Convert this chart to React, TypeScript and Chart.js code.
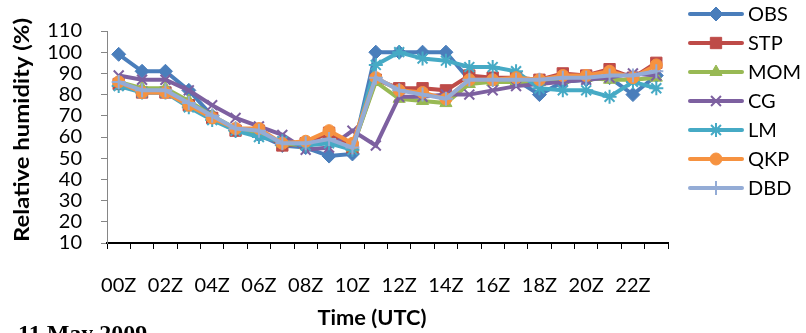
import React, { useEffect, useRef } from 'react';
import { Chart, registerables } from 'chart.js';
import { drawPoint } from 'chart.js/helpers';

Chart.register(...registerables);

const categories = ['00Z', '01Z', '02Z', '03Z', '04Z', '05Z', '06Z', '07Z', '08Z', '09Z', '10Z', '11Z', '12Z', '13Z', '14Z', '15Z', '16Z', '17Z', '18Z', '19Z', '20Z', '21Z', '22Z', '23Z'];

const OBS = [99, 91, 91, 82, 70, 63, 61, 56, 55, 51, 52, 100, 100, 100, 100, 87, 87, 87, 80, 86, 87, 88, 80, 89];
const STP = [85, 81, 81, 75, 69, 63, 63, 56, 57, 62, 55, 87, 83, 83, 82, 89, 88, 88, 87, 90, 89, 92, 88, 95];
const MOM = [86, 83, 83, 77, 70, 64, 62, 57, 56, 58, 55, 86, 78, 77, 76, 85, 86, 86, 86, 87, 88, 87, 87, 88];
const CG = [89, 87, 87, 82, 75, 69, 65, 61, 54, 55, 63, 56, 79, 79, 80, 80, 82, 84, 85, 86, 87, 88, 90, 89];
const LM = [84, 81, 81, 74, 68, 63, 60, 58, 56, 57, 54, 94, 100, 97, 96, 93, 93, 91, 83, 82, 82, 79, 86, 83];
const QKP = [86, 81, 81, 75, 69, 64, 64, 57, 58, 63, 57, 88, 82, 81, 78, 87, 87, 88, 87, 89, 89, 91, 88, 94];
const DBD = [86, 82, 82, 76, 70, 64, 63, 57, 57, 59, 55, 88, 82, 80, 78, 87, 87, 87, 87, 88, 88, 89, 89, 91];

const seriesNames = ['OBS', 'STP', 'MOM', 'CG', 'LM', 'QKP', 'DBD'];
const seriesValues = [OBS, STP, MOM, CG, LM, QKP, DBD];
const seriesColors = ['#4A7EBB', '#BE4B48', '#98B954', '#7D60A0', '#46AAC5', '#F69240', '#94ACD6'];
const seriesStyles = ['rectRot', 'rect', 'triangle', 'crossRot', 'star', 'circle', 'cross'];
const seriesRadius = [7, 8, 7, 7, 7, 6, 7];
const seriesPointBorder = [1, 1, 1, 2, 2, 1, 2];

const yTicksMin = 10;
const yTicksMax = 110;
const yStep = 10;

const xTitle = 'Time (UTC)';
const yTitle = 'Relative humidity (%)';
const caption = '11 May 2009';

const FONT = 'Lato, "Open Sans", sans-serif';

function fitText(ctx: CanvasRenderingContext2D, text: string, targetW: number) {
  const w = ctx.measureText(text).width;
  ctx.scale(targetW / w, 1);
  ctx.fillText(text, 0, 0);
}

const overlayPlugin = {
  id: 'overlay',
  afterDraw(chart: any) {
    const ctx = chart.ctx as CanvasRenderingContext2D;
    ctx.save();
    chart.data.datasets.forEach((ds: any, i: number) => {
      const y = 14 + i * 29;
      ctx.strokeStyle = ds.borderColor;
      ctx.lineWidth = 4;
      ctx.lineCap = 'round';
      ctx.beginPath();
      ctx.moveTo(690, y);
      ctx.lineTo(742, y);
      ctx.stroke();
      ctx.lineCap = 'butt';
      ctx.fillStyle = ds.pointBackgroundColor;
      ctx.strokeStyle = ds.pointBorderColor;
      ctx.lineWidth = ds.pointBorderWidth;
      drawPoint(ctx, { pointStyle: ds.pointStyle, radius: ds.pointRadius, borderWidth: ds.pointBorderWidth, rotation: 0 } as any, 716, y);
      ctx.fillStyle = '#000';
      ctx.font = `20px ${FONT}`;
      ctx.textAlign = 'left';
      ctx.textBaseline = 'middle';
      ctx.fillText(ds.label, 748, y + 1);
    });
    // axis titles
    ctx.fillStyle = '#000';
    ctx.font = `bold 21px ${FONT}`;
    ctx.textAlign = 'center';
    ctx.textBaseline = 'middle';
    ctx.save();
    ctx.translate(372, 318);
    fitText(ctx, xTitle, 109);
    ctx.restore();
    ctx.save();
    ctx.translate(22, 130);
    ctx.rotate(-Math.PI / 2);
    fitText(ctx, yTitle, 224);
    ctx.restore();
    // partial caption at bottom
    ctx.font = 'bold 24px "Liberation Serif", "Times New Roman", serif';
    ctx.textAlign = 'left';
    ctx.textBaseline = 'alphabetic';
    ctx.fillText(caption, 18, 341);
    ctx.restore();
  },
};

export default function App() {
  const ref = useRef<HTMLCanvasElement | null>(null);
  useEffect(() => {
    if (!ref.current) return;
    const chart = new Chart(ref.current, {
      type: 'line',
      data: {
        labels: categories,
        datasets: seriesNames.map((name, i) => ({
          label: name,
          data: seriesValues[i],
          borderColor: seriesColors[i],
          backgroundColor: seriesColors[i],
          pointBackgroundColor: seriesColors[i],
          pointBorderColor: seriesColors[i],
          pointStyle: seriesStyles[i] as any,
          pointRadius: seriesRadius[i],
          pointBorderWidth: seriesPointBorder[i],
          borderWidth: 4,
          tension: 0,
          fill: false,
          order: seriesNames.length - i,
        })),
      },
      options: {
        responsive: false,
        animation: false,
        events: [],
        layout: { padding: { top: 14, right: 138, left: 0, bottom: 0 } },
        plugins: { legend: { display: false }, tooltip: { enabled: false }, title: { display: false } },
        scales: {
          x: {
            offset: true,
            grid: { offset: true, drawOnChartArea: false, drawTicks: true, tickLength: 6, color: '#000', lineWidth: 1 },
            border: { color: '#000', width: 2 },
            ticks: {
              autoSkip: false,
              maxRotation: 0,
              minRotation: 0,
              padding: 25,
              color: '#000',
              font: { family: FONT, size: 20 },
              callback: (_v: any, i: number) => (i % 2 === 0 ? categories[i] : ''),
            },
            afterFit: (s: any) => { s.height = 90; },
          },
          y: {
            min: yTicksMin,
            max: yTicksMax,
            ticks: { stepSize: yStep, autoSkip: false, padding: 19, color: '#000', font: { family: FONT, size: 20 } },
            grid: { drawOnChartArea: false, tickLength: 6, color: '#868686' },
            border: { color: '#868686', width: 1 },
            afterFit: (s: any) => { s.width = 107; },
          },
        },
      },
      plugins: [overlayPlugin],
    });
    return () => chart.destroy();
  }, []);
  return (
    <div style={{ position: 'fixed', left: 0, top: 0, width: 806, height: 333, background: '#fff' }}>
      <canvas ref={ref} width={806} height={333} style={{ width: 806, height: 333, display: 'block' }} />
    </div>
  );
}
